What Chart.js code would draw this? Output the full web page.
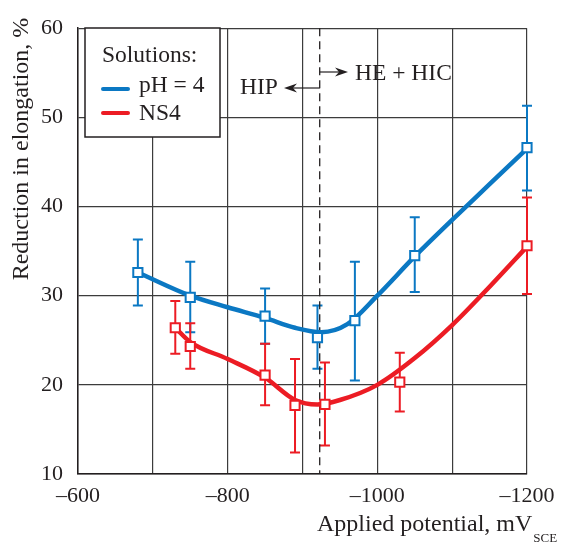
<!DOCTYPE html>
<html>
<head>
<meta charset="utf-8">
<script src="https://cdn.jsdelivr.net/npm/chart.js@4.4.0/dist/chart.umd.min.js"></script>
<style>
  html, body { margin: 0; padding: 0; background: #fff; }
  #wrap { width: 564px; height: 545px; }
</style>
</head>
<body>
<div id="wrap"><canvas id="chartArea" width="564" height="545"></canvas></div>
<script>
// measured points (squares) with error bars
const phX = [-680, -750, -850, -920, -970, -1050, -1200];
const phY = [32.6, 29.8, 27.7, 25.3, 27.2, 34.5, 46.6];
const phHi = [36.3, 33.8, 30.8, 28.9, 33.8, 38.8, 51.3];
const phLo = [28.9, 25.9, 24.6, 21.8, 20.5, 30.4, 41.8];

const nsX = [-730, -750, -850, -890, -930, -1030, -1200];
const nsY = [26.4, 24.3, 21.1, 17.7, 17.8, 20.3, 35.6];
const nsHi = [29.4, 26.9, 24.6, 22.9, 22.5, 23.6, 41.0];
const nsLo = [23.5, 21.8, 17.7, 12.4, 13.2, 17.0, 30.2];

// fitted curves
const phCurveX = [-680, -750, -800, -850, -890, -925, -960, -1000, -1050, -1100, -1150, -1200];
const phCurveY = [32.6, 30.0, 28.7, 27.5, 26.4, 25.9, 26.8, 30.0, 34.4, 38.5, 42.5, 46.5];
const nsCurveX = [-730, -750, -800, -850, -890, -920, -950, -1000, -1050, -1100, -1150, -1200];
const nsCurveY = [26.4, 24.8, 22.9, 20.8, 18.3, 17.8, 18.3, 20.0, 23.0, 26.7, 31.0, 35.5];

const xTicks = [-600, -800, -1000, -1200];
const yTicks = [10, 20, 30, 40, 50, 60];
const boundary = -923;

const BLUE = '#0b78c3';
const RED = '#ec1c24';
const INK = '#231f20';
const SERIF = '"Liberation Serif", "DejaVu Serif", serif';

const pts = (xs, ys) => xs.map((x, i) => ({ x: x, y: ys[i] }));

// error bars + dashed boundary, drawn under the lines and squares
const errorBars = {
  id: 'errorBars',
  beforeDatasetsDraw(chart) {
    const ctx = chart.ctx;
    const xs = chart.scales.x, ys = chart.scales.y;
    const sets = [[phX, phHi, phLo, BLUE], [nsX, nsHi, nsLo, RED]];
    ctx.save();
    ctx.lineWidth = 2;
    for (const [X, H, L, c] of sets) {
      ctx.strokeStyle = c;
      X.forEach((x, i) => {
        const px = xs.getPixelForValue(x);
        const top = ys.getPixelForValue(H[i]);
        const bot = ys.getPixelForValue(L[i]);
        ctx.beginPath();
        ctx.moveTo(px, top); ctx.lineTo(px, bot);
        ctx.moveTo(px - 5, top); ctx.lineTo(px + 5, top);
        ctx.moveTo(px - 5, bot); ctx.lineTo(px + 5, bot);
        ctx.stroke();
      });
    }
    const bx = xs.getPixelForValue(boundary);
    ctx.strokeStyle = INK;
    ctx.lineWidth = 1.3;
    ctx.setLineDash([8, 5]);
    ctx.beginPath();
    ctx.moveTo(bx, chart.chartArea.top);
    ctx.lineTo(bx, chart.chartArea.bottom);
    ctx.stroke();
    ctx.restore();
  }
};

function arrowHead(ctx, x, y, dir) {
  ctx.beginPath();
  ctx.moveTo(x, y);
  ctx.lineTo(x - dir * 13, y - 4.5);
  ctx.lineTo(x - dir * 9, y);
  ctx.lineTo(x - dir * 13, y + 4.5);
  ctx.closePath();
  ctx.fill();
}

// legend box, labels, axis titles
const decorations = {
  id: 'decorations',
  afterDraw(chart) {
    const ctx = chart.ctx;
    const bx = chart.scales.x.getPixelForValue(boundary);
    ctx.save();

    // legend
    ctx.fillStyle = '#fff';
    ctx.fillRect(85, 28, 135, 109);
    ctx.strokeStyle = INK;
    ctx.lineWidth = 1.5;
    ctx.strokeRect(85, 28, 135, 109);
    ctx.fillStyle = INK;
    ctx.font = '23.5px ' + SERIF;
    ctx.textBaseline = 'alphabetic';
    ctx.textAlign = 'left';
    ctx.fillText('Solutions:', 102, 62);
    ctx.fillText('pH = 4', 139, 92);
    ctx.fillText('NS4', 139, 120);
    ctx.lineWidth = 4;
    ctx.lineCap = 'round';
    ctx.strokeStyle = BLUE;
    ctx.beginPath(); ctx.moveTo(103, 89); ctx.lineTo(128, 89); ctx.stroke();
    ctx.strokeStyle = RED;
    ctx.beginPath(); ctx.moveTo(103, 113); ctx.lineTo(128, 113); ctx.stroke();
    ctx.lineCap = 'butt';

    // HIP / HE + HIC
    ctx.strokeStyle = INK;
    ctx.lineWidth = 1.2;
    ctx.beginPath(); ctx.moveTo(bx, 88); ctx.lineTo(289, 88); ctx.stroke();
    arrowHead(ctx, 284, 88, -1);
    ctx.beginPath(); ctx.moveTo(bx, 72); ctx.lineTo(342, 72); ctx.stroke();
    arrowHead(ctx, 348, 72, 1);
    ctx.font = '23.5px ' + SERIF;
    ctx.fillText('HIP', 240, 94);
    ctx.fillText('HE + HIC', 355, 80);

    // x title with subscript
    ctx.font = '24px ' + SERIF;
    ctx.fillText('Applied potential, mV', 317, 531);
    const w = ctx.measureText('Applied potential, mV').width;
    ctx.font = '13px ' + SERIF;
    ctx.fillText('SCE', 317 + w + 1, 542);

    // y title
    ctx.translate(28, 149);
    ctx.rotate(-Math.PI / 2);
    ctx.textAlign = 'center';
    ctx.font = '24px ' + SERIF;
    ctx.fillText('Reduction in elongation, %', 0, 0);
    ctx.restore();
  }
};

const chartArea = document.getElementById('chartArea');
const marker = (c) => ({
  pointStyle: 'rect',
  pointRadius: 6.5,
  pointBorderWidth: 2,
  pointBackgroundColor: '#fff',
  pointBorderColor: c,
  showLine: false,
  borderColor: c,
  backgroundColor: '#fff',
  clip: false
});
const curve = (c) => ({
  showLine: true,
  borderColor: c,
  borderWidth: 4.5,
  pointRadius: 0,
  cubicInterpolationMode: 'monotone',
  clip: false
});

const myChart = new Chart(chartArea, {
  type: 'scatter',
  data: {
    datasets: [
      Object.assign({ label: 'pH = 4 data', data: pts(phX, phY) }, marker(BLUE)),
      Object.assign({ label: 'NS4 data', data: pts(nsX, nsY) }, marker(RED)),
      Object.assign({ label: 'pH = 4', data: pts(phCurveX, phCurveY) }, curve(BLUE)),
      Object.assign({ label: 'NS4', data: pts(nsCurveX, nsCurveY) }, curve(RED))
    ]
  },
  options: {
    responsive: false,
    animation: false,
    layout: { padding: { left: 0, top: 21, right: 37, bottom: 0 } },
    scales: {
      x: {
        type: 'linear',
        reverse: true,
        min: -1200,
        max: -600,
        afterFit(scale) { scale.height = 71; },
        afterBuildTicks(scale) {
          const t = [];
          for (let v = -600; v >= -1200; v -= 100) t.push({ value: v });
          scale.ticks = t;
        },
        ticks: {
          padding: 9,
          color: INK,
          font: { family: SERIF, size: 22 },
          maxRotation: 0,
          callback: (v) => (xTicks.includes(v) ? '\u2013' + Math.abs(v) : '')
        },
        grid: { color: '#3c3c3c', lineWidth: 1.2, drawTicks: false },
        border: { color: INK, width: 1.5 }
      },
      y: {
        min: 10,
        max: 60,
        afterFit(scale) { scale.width = 78; },
        afterBuildTicks(scale) { scale.ticks = yTicks.map((v) => ({ value: v })); },
        ticks: {
          padding: 15,
          color: INK,
          font: { family: SERIF, size: 22 }
        },
        grid: { color: '#3c3c3c', lineWidth: 1.2, drawTicks: false },
        border: { color: INK, width: 1.5 }
      }
    },
    plugins: {
      legend: { display: false },
      tooltip: { enabled: false }
    }
  },
  plugins: [errorBars, decorations]
});
</script>
</body>
</html>
